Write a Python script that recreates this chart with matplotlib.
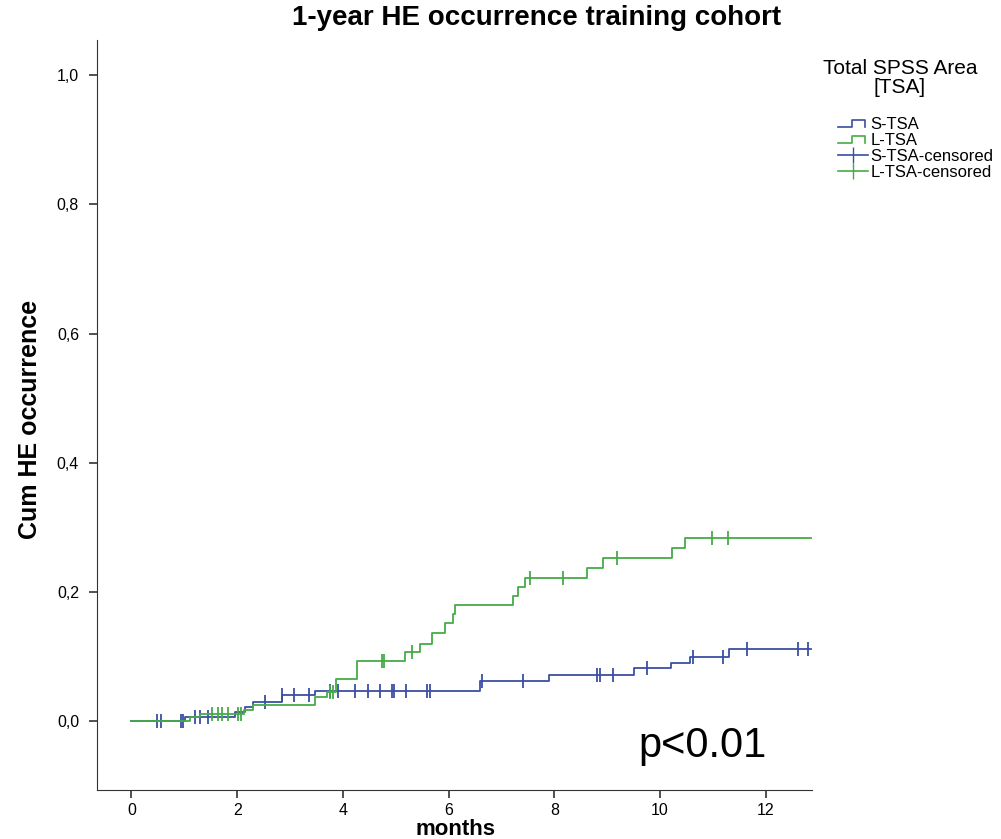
import numpy as np
import matplotlib
matplotlib.use("Agg")
import matplotlib.pyplot as plt
from matplotlib.lines import Line2D
from matplotlib.legend_handler import HandlerBase

plt.rcParams['font.family'] = ['Liberation Sans', 'DejaVu Sans']

# step times (months) and cumulative HE occurrence
s_times = [0, 1.02, 1.95, 2.15, 2.30, 2.85, 3.48, 6.60, 7.90, 9.50, 10.20, 10.57, 11.30]
s_cum = [0, 0.007, 0.015, 0.022, 0.030, 0.040, 0.047, 0.063, 0.072, 0.083, 0.090, 0.099, 0.112]
s_censored = [0.49, 0.55, 0.93, 0.97, 1.21, 1.30, 1.44, 2.53, 2.85, 3.07, 3.35, 3.76, 3.90,
              4.23, 4.48, 4.70, 4.93, 4.97, 5.20, 5.60, 5.65, 6.63, 7.40, 8.80, 8.86, 9.10,
              9.75, 10.63, 11.19, 11.64, 12.60, 12.80]

l_times = [0, 1.10, 1.30, 2.12, 2.30, 3.48, 3.70, 3.86, 4.27, 5.18, 5.46, 5.69, 5.94, 6.08,
           6.12, 7.22, 7.31, 7.45, 8.62, 8.92, 10.23, 10.47]
l_cum = [0, 0.006, 0.011, 0.017, 0.025, 0.037, 0.045, 0.066, 0.093, 0.107, 0.120, 0.136,
         0.152, 0.166, 0.180, 0.194, 0.207, 0.222, 0.237, 0.253, 0.268, 0.283]
l_censored = [1.53, 1.63, 1.72, 1.83, 2.02, 2.08, 3.76, 3.82, 4.74, 4.78, 5.31, 7.54, 8.17,
              9.19, 10.98, 11.29]

t_end = 12.85
blue = '#3b4ea3'
green = '#46ab46'


def cum_at(times, cum, t):
    i = np.searchsorted(times, t, side='right') - 1
    return np.array(cum)[i]


class StepHandler(HandlerBase):
    def create_artists(self, legend, orig_handle, xdescent, ydescent,
                       width, height, fontsize, trans):
        x0 = -xdescent
        y0 = -ydescent + height * 0.2
        y1 = -ydescent + height * 0.8
        xs = [x0, x0 + width * 0.45, x0 + width * 0.45, x0 + width * 0.9, x0 + width * 0.9]
        ys = [y0, y0, y1, y1, y0]
        ln = Line2D(xs, ys, color=orig_handle.get_color(), lw=1.2, transform=trans)
        return [ln]


fig = plt.figure(figsize=(10.01, 8.39), dpi=100)
ax = fig.add_axes([0.097, 0.058, 0.714, 0.894])

for times, cum, cens, col in [(s_times, s_cum, s_censored, blue),
                              (l_times, l_cum, l_censored, green)]:
    ax.step(times + [t_end], cum + [cum[-1]], where='post', color=col, lw=1.3)
    ax.plot(cens, cum_at(times, cum, cens), linestyle='none', marker='|',
            markersize=10, markeredgewidth=1.3, color=col)

ax.set_xlim(-0.65, 12.87)
ax.set_ylim(-0.107, 1.054)
ax.set_xticks(range(0, 13, 2))
ax.set_yticks([0, 0.2, 0.4, 0.6, 0.8, 1.0])
ax.set_yticklabels(['0,0', '0,2', '0,4', '0,6', '0,8', '1,0'])
ax.tick_params(labelsize=11.5, length=6, width=1.2, pad=7, color='#333333')
ax.tick_params(axis='x', pad=3)
for s in ['top', 'right']:
    ax.spines[s].set_visible(False)
for s in ['left', 'bottom']:
    ax.spines[s].set_color('#333333')

# axis labels placed in figure coords to match the reference layout
fig.text(0.455, 0.011, 'months', fontsize=16, fontweight='bold', ha='center', va='center')
fig.text(0.03, 0.5, 'Cum HE occurrence', fontsize=18, fontweight='bold',
         rotation=90, ha='center', va='center')
fig.text(0.536, 0.978, '1-year HE occurrence training cohort', ha='center', va='center',
         fontsize=20, fontweight='bold')
ax.text(10.81, -0.055, 'p<0.01', fontsize=30, ha='center', va='baseline')

fig.text(0.899, 0.907, 'Total SPSS Area\n[TSA]', ha='center', va='center',
         multialignment='center', fontsize=15, linespacing=1.05)
handles = [Line2D([], [], color=blue), Line2D([], [], color=green),
           Line2D([], [], color=blue, marker='|', markersize=11, lw=1.2),
           Line2D([], [], color=green, marker='|', markersize=11, lw=1.2)]
labels = ['S-TSA', 'L-TSA', 'S-TSA-censored', 'L-TSA-censored']
leg = fig.legend(handles, labels, loc='upper left', bbox_to_anchor=(0.826, 0.874),
                 frameon=False, fontsize=12, handlelength=1.8, handletextpad=0.1,
                 labelspacing=0.05, borderpad=0.2,
                 handler_map={handles[0]: StepHandler(), handles[1]: StepHandler()})

fig.savefig('out.png', dpi=100)
